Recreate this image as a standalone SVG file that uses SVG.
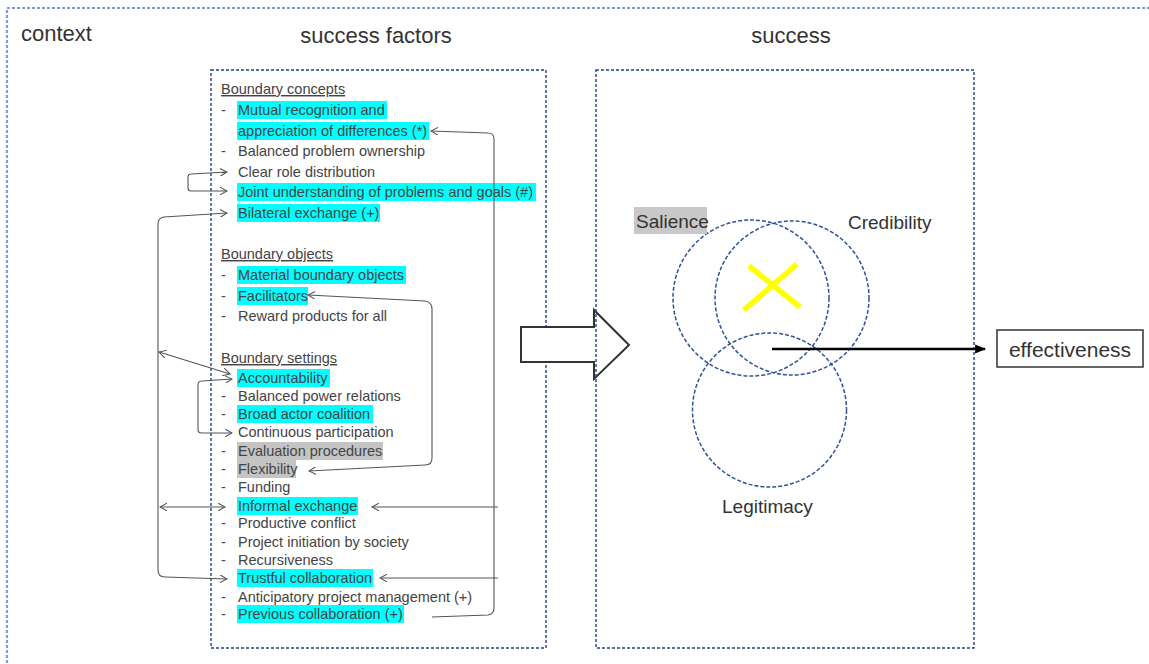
<svg xmlns="http://www.w3.org/2000/svg" width="1149" height="664" viewBox="0 0 1149 664">
  <style>
    text { font-family: "Liberation Sans", Arial, sans-serif; }
    .title { font-size: 22px; fill: #333; }
    .item { font-size: 14.5px; fill: #444; }
    .head { font-size: 14.5px; fill: #444; text-decoration: underline; }
    .hl { fill: #00ffff; }
    .hg { fill: #c4c4c4; }
    .frame { fill: none; stroke: #1f3f8f; stroke-width: 1.4; stroke-dasharray: 3 2; }
    .ring { fill: none; stroke: #2f5296; stroke-width: 1.5; stroke-dasharray: 4 2; }
    .link { fill: none; stroke: #555; stroke-width: 1.1; }
    .dim { font-size: 19px; fill: #333; }
  </style>
  <defs>
    <marker id="open" viewBox="0 0 10 10" refX="9" refY="5" markerWidth="8" markerHeight="8" markerUnits="userSpaceOnUse" orient="auto-start-reverse">
      <path d="M0,0 L9,5 L0,10" fill="none" stroke="#555" stroke-width="1.3"/>
    </marker>
    <marker id="solid" viewBox="0 0 10 10" refX="9" refY="5" markerWidth="11" markerHeight="11" markerUnits="userSpaceOnUse" orient="auto">
      <path d="M0,1 L10,5 L0,9 Z" fill="#000"/>
    </marker>
  </defs>

  <rect width="1149" height="664" fill="#fff"/>

  <!-- context frame -->
  <g id="context">
    <path d="M1160,8 L7,8 L7,670" fill="none" stroke="#7f9ad8" stroke-width="2.2" stroke-dasharray="3 2"/>
    <text class="title" x="21" y="41">context</text>
  </g>

  <text class="title" x="376" y="43" text-anchor="middle">success factors</text>
  <text class="title" x="791" y="43" text-anchor="middle">success</text>

  <!-- success factors panel -->
  <g id="factors">
    <rect class="frame" x="211" y="70" width="335" height="578"/>

    <!-- highlights -->
    <rect class="hl" x="237" y="101" width="150" height="18"/>
    <rect class="hl" x="237" y="122" width="192" height="18"/>
    <rect class="hl" x="237" y="183" width="299" height="18"/>
    <rect class="hl" x="237" y="204" width="143" height="18"/>
    <rect class="hl" x="237" y="266" width="169" height="18"/>
    <rect class="hl" x="237" y="287" width="71" height="18"/>
    <rect class="hl" x="237" y="369" width="93" height="18"/>
    <rect class="hl" x="237" y="405" width="136" height="18"/>
    <rect class="hg" x="237" y="442" width="146" height="18"/>
    <rect class="hg" x="237" y="460" width="59" height="18"/>
    <rect class="hl" x="237" y="497" width="121" height="18"/>
    <rect class="hl" x="237" y="569" width="136" height="18"/>
    <rect class="hl" x="237" y="605" width="167" height="18"/>

    <g id="concepts">
      <text class="head" x="221" y="94">Boundary concepts</text>
      <text class="item" x="221" y="115">-</text><text class="item" x="238" y="115">Mutual recognition and</text>
      <text class="item" x="238" y="136">appreciation of differences (*)</text>
      <text class="item" x="221" y="156">-</text><text class="item" x="238" y="156">Balanced problem ownership</text>
      <text class="item" x="221" y="177">-</text><text class="item" x="238" y="177">Clear role distribution</text>
      <text class="item" x="238" y="197">Joint understanding of problems and goals (#)</text>
      <text class="item" x="238" y="218">Bilateral exchange (+)</text>
    </g>

    <g id="objects">
      <text class="head" x="221" y="259">Boundary objects</text>
      <text class="item" x="221" y="280">-</text><text class="item" x="238" y="280">Material boundary objects</text>
      <text class="item" x="221" y="301">-</text><text class="item" x="238" y="301">Facilitators</text>
      <text class="item" x="221" y="321">-</text><text class="item" x="238" y="321">Reward products for all</text>
    </g>

    <g id="settings">
      <text class="head" x="221" y="363">Boundary settings</text>
      <text class="item" x="238" y="383">Accountability</text>
      <text class="item" x="221" y="401">-</text><text class="item" x="238" y="401">Balanced power relations</text>
      <text class="item" x="221" y="419">-</text><text class="item" x="238" y="419">Broad actor coalition</text>
      <text class="item" x="238" y="437">Continuous participation</text>
      <text class="item" x="221" y="456">-</text><text class="item" x="238" y="456">Evaluation procedures</text>
      <text class="item" x="221" y="474">-</text><text class="item" x="238" y="474">Flexibility</text>
      <text class="item" x="221" y="492">-</text><text class="item" x="238" y="492">Funding</text>
      <text class="item" x="238" y="511">Informal exchange</text>
      <text class="item" x="221" y="528">-</text><text class="item" x="238" y="528">Productive conflict</text>
      <text class="item" x="221" y="547">-</text><text class="item" x="238" y="547">Project initiation by society</text>
      <text class="item" x="221" y="565">-</text><text class="item" x="238" y="565">Recursiveness</text>
      <text class="item" x="238" y="583">Trustful collaboration</text>
      <text class="item" x="221" y="602">-</text><text class="item" x="238" y="602">Anticipatory project management (+)</text>
      <text class="item" x="221" y="619">-</text><text class="item" x="238" y="619">Previous collaboration (+)</text>
    </g>
  </g>

  <!-- links between factors -->
  <g id="connectors">
    <path class="link" d="M432,617 L488,615 Q494,614 494,608 L494,139 Q494,133 488,133 L431,131" marker-end="url(#open)"/>
    <path class="link" d="M227,172 L191,174 Q188,174 188,177 L188,188 Q188,191 191,191 L227,191" marker-start="url(#open)" marker-end="url(#open)"/>
    <path class="link" d="M227,213 L164,217 Q158,218 158,224 L158,570 Q158,577 165,577 L227,579" marker-start="url(#open)" marker-end="url(#open)"/>
    <path class="link" d="M159,352 L230,374" marker-start="url(#open)" marker-end="url(#open)"/>
    <path class="link" d="M160,507 L225,507" marker-start="url(#open)" marker-end="url(#open)"/>
    <path class="link" d="M232,379 L202,381 Q198,381 198,385 L198,430 Q198,433 202,433 L232,433" marker-start="url(#open)" marker-end="url(#open)"/>
    <path class="link" d="M308,295 L425,301 Q432,302 432,309 L432,458 Q432,465 425,465 L309,471" marker-start="url(#open)" marker-end="url(#open)"/>
    <path class="link" d="M498,507 L372,507" marker-end="url(#open)"/>
    <path class="link" d="M498,578 L380,578" marker-end="url(#open)"/>
  </g>

  <!-- block arrow from factors to success -->
  <g id="transition">
    <path d="M521,327 L594,327 L594,310 L629,345 L594,379 L594,362 L521,362 Z" fill="#fff" stroke="#333" stroke-width="2" stroke-linejoin="miter"/>
  </g>

  <!-- success panel -->
  <g id="success">
    <rect class="frame" x="596" y="70" width="378" height="578"/>
    <circle class="ring" cx="751" cy="298" r="78"/>
    <circle class="ring" cx="792" cy="298" r="77"/>
    <circle class="ring" cx="769.5" cy="410" r="77"/>
    <path d="M749,266 L800,307 M797,264 L744,310" stroke="#ffff00" stroke-width="5.5" fill="none"/>
    <rect x="634" y="207" width="73" height="27" fill="#c8c8c8"/>
    <text class="dim" x="636" y="228">Salience</text>
    <text class="dim" x="848" y="229">Credibility</text>
    <text class="dim" x="722" y="513">Legitimacy</text>
  </g>

  <g id="effect-link">
    <path d="M772,349 L985,349" stroke="#000" stroke-width="2.5" fill="none" marker-end="url(#solid)"/>
  </g>

  <g id="effectiveness">
    <rect x="997" y="330" width="146" height="37" fill="#fff" stroke="#333" stroke-width="1.5"/>
    <text x="1070" y="357" text-anchor="middle" style="font-size:21px;fill:#333">effectiveness</text>
  </g>
</svg>
